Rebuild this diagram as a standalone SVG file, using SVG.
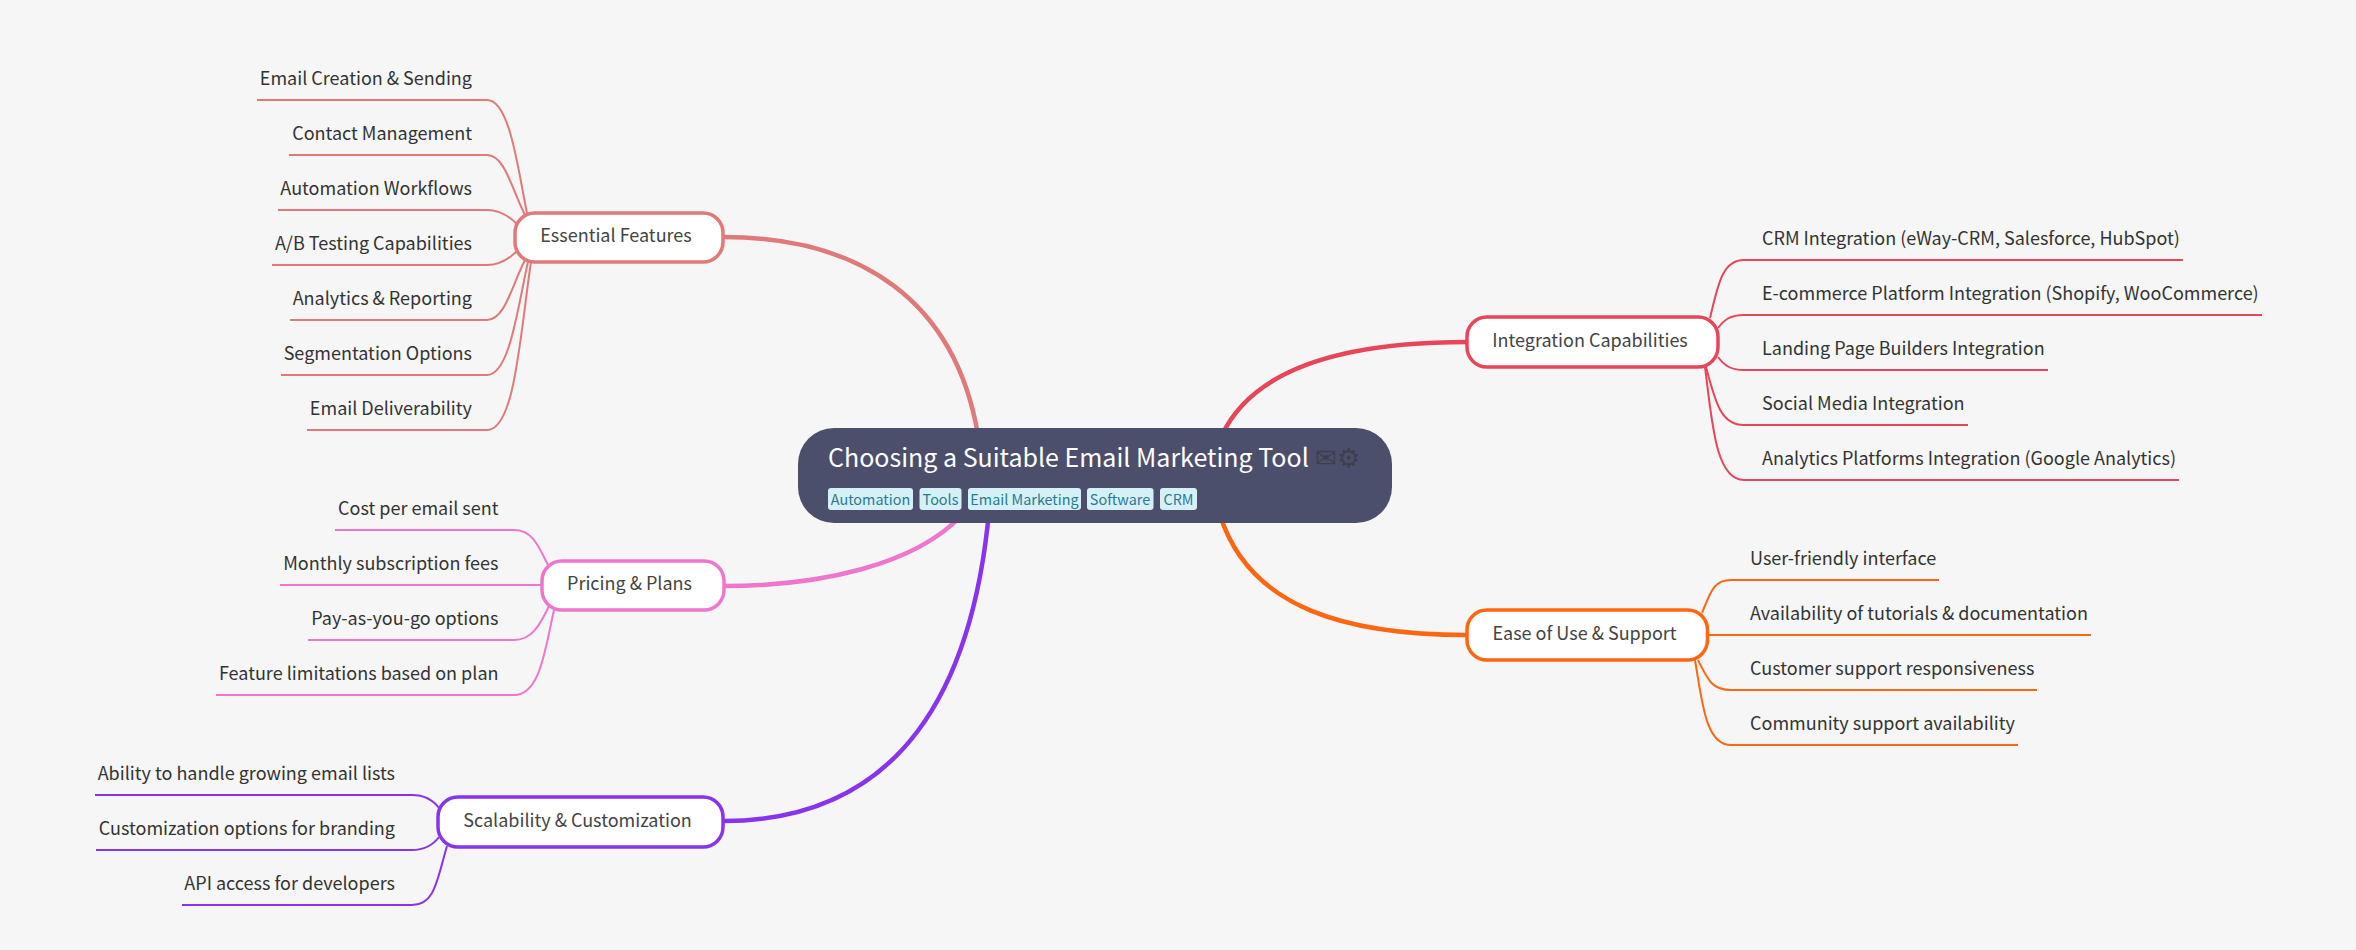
<svg xmlns="http://www.w3.org/2000/svg" width="2356" height="950" viewBox="0 0 2356 950">
<style>
text{font-family:"Noto Sans CJK SC","Source Sans Pro","Noto Sans",sans-serif;fill:#333}
.c{font-size:18px}
.l{text-anchor:end}
.t{font-size:18px;fill:#444;text-anchor:middle}
.b{fill:#fff;stroke-width:3.5}
.m{fill:none;stroke-width:4.5}
.s{fill:none;stroke-width:2}
.red{stroke:#e07a7a}.rose{stroke:#e6455a}.org{stroke:#ff6611}.pink{stroke:#ee77cc}.vio{stroke:#8833ee}
.tag{fill:#d6f0f8}
.tt{font-size:14.4px;fill:#2a7a8f;text-anchor:middle}
</style>
<rect width="2356" height="950" fill="#f6f6f6"/>
<g id="connectors">
<path class="m red" d="M723 237C860 237 955 300 978 435"/>
<path class="m rose" d="M1467 342C1350 342 1255 365 1222 435"/>
<path class="m org" d="M1467 635C1350 635 1250 610 1220 515"/>
<path class="m pink" d="M724 586C820 586 915 565 962 515"/>
<path class="m vio" d="M723 821C900 821 975 690 990 500"/>
<path class="s red" d="M257 100H487C510 100 518 170 527 213"/>
<path class="s red" d="M289 155H487C505 155 512 190 525 215"/>
<path class="s red" d="M278 210H487C500 210 510 217 517 224"/>
<path class="s red" d="M272 265H487C500 265 510 258 517 251"/>
<path class="s red" d="M290 320H487C505 320 512 285 525 260"/>
<path class="s red" d="M281 375H487C510 375 518 305 528 262"/>
<path class="s red" d="M307 430H487C515 430 520 335 531 262"/>
<path class="s rose" d="M2183 260H1744C1722 260 1718 285 1710 318"/>
<path class="s rose" d="M2262 315H1744C1730 315 1724 320 1718 328"/>
<path class="s rose" d="M2048 370H1744C1730 370 1724 365 1718 357"/>
<path class="s rose" d="M1968 425H1744C1720 425 1715 400 1706 367"/>
<path class="s rose" d="M2179 480H1744C1715 480 1712 420 1705 367"/>
<path class="s org" d="M1939 580H1731C1712 580 1710 595 1702 613"/>
<path class="s org" d="M2091 635H1707"/>
<path class="s org" d="M2037 690H1731C1712 690 1708 680 1698 660"/>
<path class="s org" d="M2018 745H1731C1705 745 1702 700 1695 660"/>
<path class="s pink" d="M335 530H514C532 530 538 545 548 565"/>
<path class="s pink" d="M280 585H542"/>
<path class="s pink" d="M308 640H514C532 640 540 625 549 606"/>
<path class="s pink" d="M216 695H514C540 695 545 650 554 610"/>
<path class="s vio" d="M95 795H412C425 795 433 800 439 808"/>
<path class="s vio" d="M96 850H412C425 850 433 845 439 837"/>
<path class="s vio" d="M182 905H412C435 905 437 880 447 846"/>
</g>
<g id="root">
<rect x="798" y="428" width="594" height="95" rx="36" fill="#4c4f6b"/>
<text x="828" y="467" font-size="25" style="fill:#fff">Choosing a Suitable Email Marketing Tool</text>
<text x="1315" y="467" font-size="26" style="fill:#3d3f4a;font-family:'Noto Sans CJK SC',sans-serif">✉⚙</text>
<rect class="tag" x="828" y="488" width="85" height="22" rx="3"/><text class="tt" x="870.5" y="505">Automation</text>
<rect class="tag" x="919.500" y="488" width="42" height="22" rx="3"/><text class="tt" x="940.5" y="505">Tools</text>
<rect class="tag" x="968" y="488" width="113" height="22" rx="3"/><text class="tt" x="1024.5" y="505">Email Marketing</text>
<rect class="tag" x="1087" y="488" width="66.500" height="22" rx="3"/><text class="tt" x="1120" y="505">Software</text>
<rect class="tag" x="1160" y="488" width="37" height="22" rx="3"/><text class="tt" x="1178.5" y="505">CRM</text>
</g>
<g id="essential"><rect class="b red" x="515" y="213" width="208" height="49" rx="20"/><text class="t" x="616" y="242">Essential Features</text></g>
<g id="integration"><rect class="b rose" x="1467" y="317" width="251" height="50" rx="20"/><text class="t" x="1590" y="347">Integration Capabilities</text></g>
<g id="ease"><rect class="b org" x="1467" y="610" width="240.500" height="50" rx="20"/><text class="t" x="1584.500" y="640">Ease of Use &amp; Support</text></g>
<g id="pricing"><rect class="b pink" x="542" y="561" width="182" height="49" rx="20"/><text class="t" x="629.500" y="590">Pricing &amp; Plans</text></g>
<g id="scalability"><rect class="b vio" x="438" y="797" width="285" height="50" rx="20"/><text class="t" x="577.500" y="827">Scalability &amp; Customization</text></g>
<g id="essential-children">
<g id="e1"><text class="c l" x="472" y="85">Email Creation &amp; Sending</text></g>
<g id="e2"><text class="c l" x="472" y="140">Contact Management</text></g>
<g id="e3"><text class="c l" x="472" y="195">Automation Workflows</text></g>
<g id="e4"><text class="c l" x="472" y="250">A/B Testing Capabilities</text></g>
<g id="e5"><text class="c l" x="472" y="305">Analytics &amp; Reporting</text></g>
<g id="e6"><text class="c l" x="472" y="360">Segmentation Options</text></g>
<g id="e7"><text class="c l" x="472" y="415">Email Deliverability</text></g>
</g>
<g id="integration-children">
<g id="i1"><text class="c" x="1762" y="245">CRM Integration (eWay-CRM, Salesforce, HubSpot)</text></g>
<g id="i2"><text class="c" x="1762" y="300">E-commerce Platform Integration (Shopify, WooCommerce)</text></g>
<g id="i3"><text class="c" x="1762" y="355">Landing Page Builders Integration</text></g>
<g id="i4"><text class="c" x="1762" y="410">Social Media Integration</text></g>
<g id="i5"><text class="c" x="1762" y="465">Analytics Platforms Integration (Google Analytics)</text></g>
</g>
<g id="ease-children">
<g id="u1"><text class="c" x="1750" y="565">User-friendly interface</text></g>
<g id="u2"><text class="c" x="1750" y="620">Availability of tutorials &amp; documentation</text></g>
<g id="u3"><text class="c" x="1750" y="675">Customer support responsiveness</text></g>
<g id="u4"><text class="c" x="1750" y="730">Community support availability</text></g>
</g>
<g id="pricing-children">
<g id="p1"><text class="c l" x="498.500" y="515">Cost per email sent</text></g>
<g id="p2"><text class="c l" x="498.500" y="570">Monthly subscription fees</text></g>
<g id="p3"><text class="c l" x="498.500" y="625">Pay-as-you-go options</text></g>
<g id="p4"><text class="c l" x="498.500" y="680">Feature limitations based on plan</text></g>
</g>
<g id="scalability-children">
<g id="s1"><text class="c l" x="395" y="780">Ability to handle growing email lists</text></g>
<g id="s2"><text class="c l" x="395" y="835">Customization options for branding</text></g>
<g id="s3"><text class="c l" x="395" y="890">API access for developers</text></g>
</g>
</svg>
